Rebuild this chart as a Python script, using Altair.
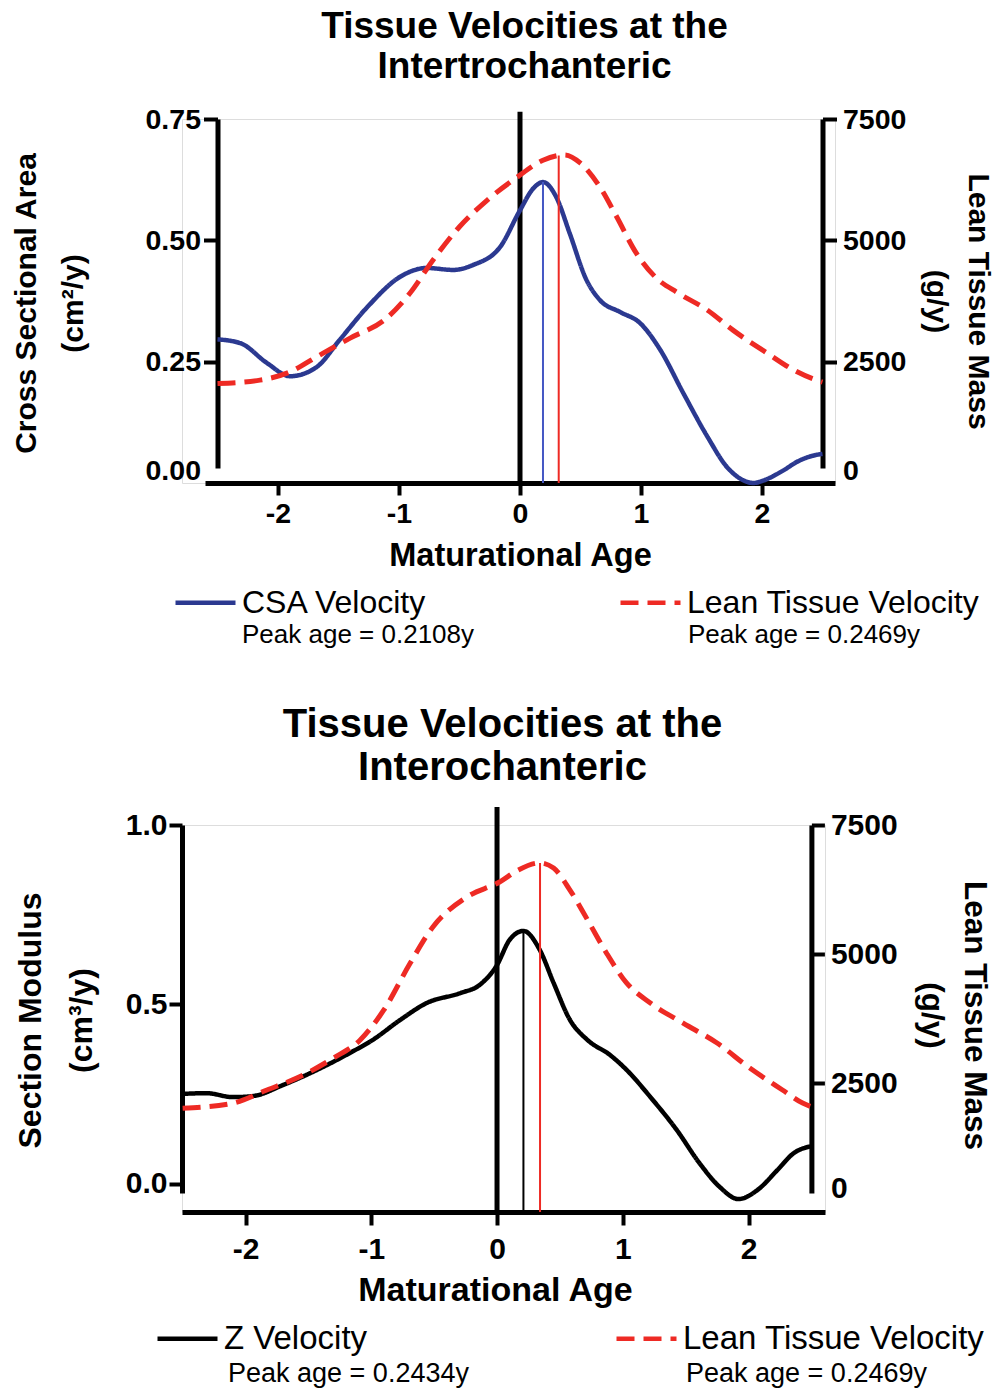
import altair as alt
import pandas as pd

FONT = "Liberation Sans"

# ---------------- data ----------------
top_title = ["Tissue Velocities at the", "Intertrochanteric"]
bottom_title = ["Tissue Velocities at the", "Interochanteric"]
x_ticks = [-2, -1, 0, 1, 2]

series_top = ["CSA Velocity", "Lean Tissue Velocity"]
series_bottom = ["Z Velocity", "Lean Tissue Velocity"]
peak_text_top = ["Peak age = 0.2108y", "Peak age = 0.2469y"]
peak_text_bottom = ["Peak age = 0.2434y", "Peak age = 0.2469y"]

# top panel: CSA velocity (cm^2/y)
csa_x = [-2.50, -2.31, -2.09, -1.90, -1.68, -1.49, -1.26, -0.99, -0.77, -0.55,
         -0.39, -0.165, 0.00, 0.11, 0.19, 0.30, 0.41, 0.55, 0.66, 0.83,
         0.99, 1.16, 1.35, 1.55, 1.71, 1.85, 1.93, 2.01, 2.17, 2.30, 2.45, 2.50]
csa_y = [0.296, 0.288, 0.247, 0.220, 0.239, 0.295, 0.363, 0.425, 0.443, 0.439,
         0.449, 0.486, 0.562, 0.607, 0.620, 0.589, 0.515, 0.418, 0.377, 0.352,
         0.330, 0.274, 0.185, 0.095, 0.033, 0.005, 0.000, 0.005, 0.025, 0.045, 0.058, 0.060]

# top panel: lean tissue velocity (g/y)
lean_top_x = [-2.50, -2.15, -1.90, -1.68, -1.40, -1.12, -0.91, -0.72, -0.50, -0.27,
              -0.03, 0.19, 0.37, 0.50, 0.66, 0.80, 0.96, 1.12, 1.31, 1.55,
              1.76, 2.04, 2.26, 2.45, 2.50]
lean_top_y = [2050, 2120, 2290, 2600, 2990, 3360, 3910, 4590, 5280, 5830,
              6290, 6650, 6760, 6590, 6100, 5480, 4740, 4240, 3910, 3560,
              3150, 2680, 2330, 2120, 2080]

# bottom panel: Z velocity (cm^3/y)
z_x = [-2.50, -2.31, -2.10, -1.94, -1.70, -1.43, -1.17, -0.99, -0.77, -0.56,
       -0.29, -0.14, 0.00, 0.10, 0.21, 0.34, 0.45, 0.58, 0.72, 0.90,
       1.03, 1.22, 1.43, 1.61, 1.77, 1.92, 2.07, 2.23, 2.36, 2.47, 2.50]
z_y = [0.251, 0.253, 0.242, 0.245, 0.276, 0.318, 0.365, 0.401, 0.457, 0.504,
       0.532, 0.554, 0.610, 0.680, 0.705, 0.652, 0.560, 0.457, 0.401, 0.359,
       0.318, 0.242, 0.150, 0.058, -0.008, -0.042, -0.017, 0.039, 0.086, 0.103, 0.105]

# bottom panel: lean tissue velocity (g/y)
lean_bot_x = [-2.50, -2.10, -1.83, -1.57, -1.30, -1.09, -0.90, -0.69, -0.51, -0.24,
              0.02, 0.17, 0.34, 0.45, 0.58, 0.72, 0.87, 1.03, 1.22, 1.48,
              1.75, 2.01, 2.27, 2.43, 2.50]
lean_bot_y = [2010, 2110, 2365, 2620, 2985, 3330, 3915, 4825, 5525, 6105,
              6395, 6630, 6765, 6665, 6240, 5660, 5020, 4440, 4050, 3660,
              3275, 2790, 2365, 2110, 2040]

# peak-age marker lines (x, bottom, top)
top_peak_left = [0.19, 0.0, 0.62]
top_peak_right = [0.32, 0.0, 6750]
bot_peak_left = [0.21, -0.078, 0.705]
bot_peak_right = [0.342, 0.0, 6765]
# x = 0 reference line (x, bottom, top)
top_zero = [0.0, 0.0, 0.765]
bot_zero = [0.0, -0.078, 1.05]

BLUE = "#2B3990"
BLUE_THIN = "#4558C4"
RED = "#EE2A24"
BLACK = "#000000"


def panel(cfg):
    W, H = cfg["width"], cfg["height"]
    xscale = alt.Scale(domain=cfg["xdom"], nice=False, zero=False)
    xaxis_kw = dict(
        values=x_ticks, labelExpr="'' + datum.value", title="Maturational Age",
        orient="bottom", grid=False, domainWidth=5, domainColor="black",
        domainCap="butt", tickWidth=4, tickColor="black", tickSize=cfg["xtick"],
        labelFont=FONT, labelFontSize=cfg["tick_fs"], labelFontWeight="bold",
        labelColor="black", labelPadding=cfg["xlabpad"],
        titleFont=FONT, titleFontSize=cfg["xtitle_fs"], titleFontWeight="bold",
        titleColor="black", titleX=cfg["xtitle_x"], titleY=cfg["xtitle_y"],
        titleBaseline="middle", titleAlign="center",
    )
    if cfg.get("xdash"):
        xaxis_kw["domainDash"] = cfg["xdash"]
    X = alt.X("x:Q", scale=xscale, axis=alt.Axis(**xaxis_kw))

    def yaxis(side):
        c = cfg[side]
        kw = dict(
            orient=side, values=c["ticks"], format=c["fmt"], title=c["title"],
            grid=False, domainWidth=5, domainColor="black", domainCap="butt",
            domainDash=[0, c["gap"], 2000], offset=c["offset"],
            tickWidth=4, tickColor="black", tickSize=c["tick"],
            labelFont=FONT, labelFontSize=cfg["tick_fs"], labelFontWeight="bold",
            labelColor="black", labelPadding=c["labpad"],
            titleFont=FONT, titleFontSize=c["title_fs"], titleFontWeight="bold",
            titleColor="black", titleAngle=c["angle"], titleX=c["tx"], titleY=c["ty"],
            titleBaseline="middle", titleAlign="center", titleLineHeight=c["lh"],
        )
        if c.get("zero_shift"):
            kw["labelOffset"] = {"condition": {"test": "datum.value === 0", "value": c["zero_shift"]}, "value": 0}
            kw["tickOpacity"] = {"condition": {"test": "datum.value === 0", "value": 0}, "value": 1}
        return alt.Y("y:Q", scale=alt.Scale(domain=c["dom"], nice=False, zero=False),
                     axis=alt.Axis(**kw))

    names = cfg["series"]
    color_scale = alt.Scale(domain=names, range=[cfg["left_color"], RED])
    dash_scale = alt.Scale(domain=names, range=[[1, 0], [18, 9]])
    legend = alt.Legend(
        orient="none", legendX=cfg["legx"], legendY=cfg["legy"], direction="horizontal",
        title=None, symbolType="stroke", symbolSize=3600, symbolStrokeWidth=4.5,
        labelFont=FONT, labelFontSize=cfg["leg_fs"], labelColor="black",
        labelOffset=4, columnPadding=cfg["legpad"], padding=0, labelLimit=600,
    )
    COLOR = alt.Color("s:N", scale=color_scale, legend=legend)
    DASH = alt.StrokeDash("s:N", scale=dash_scale, legend=legend)

    Yl = yaxis("left")
    Yr = yaxis("right")

    zero = cfg["zero"]
    zero_layer = alt.Chart(pd.DataFrame({"x": [zero[0]], "y": [zero[1]], "y2": [zero[2]]})).mark_rule(
        color="black", strokeWidth=5).encode(x=X, y=Yl, y2="y2:Q")
    left_line = alt.Chart(pd.DataFrame({"x": cfg["lx"], "y": cfg["ly"], "s": names[0]})).mark_line(
        strokeWidth=4.5, interpolate="monotone").encode(x=X, y=Yl, color=COLOR, strokeDash=DASH)
    pl = cfg["peak_left"]
    left_peak = alt.Chart(pd.DataFrame({"x": [pl[0]], "y": [pl[1]], "y2": [pl[2]]})).mark_rule(
        color=cfg["left_thin"], strokeWidth=2).encode(x=X, y=Yl, y2="y2:Q")
    left_group = alt.layer(zero_layer, left_line, left_peak)

    right_line = alt.Chart(pd.DataFrame({"x": cfg["rx"], "y": cfg["ry"], "s": names[1]})).mark_line(
        strokeWidth=5, interpolate="monotone").encode(x=X, y=Yr, color=COLOR, strokeDash=DASH)
    pr = cfg["peak_right"]
    right_peak = alt.Chart(pd.DataFrame({"x": [pr[0]], "y": [pr[1]], "y2": [pr[2]]})).mark_rule(
        color=RED, strokeWidth=2).encode(x=X, y=Yr, y2="y2:Q")
    right_group = alt.layer(right_line, right_peak)

    texts = []
    for t, (px, py) in zip(cfg["peak_text"], cfg["peak_pos"]):
        texts.append(alt.Chart(pd.DataFrame({"t": [t]})).mark_text(
            align="left", baseline="middle", font=FONT, fontSize=cfg["peak_fs"],
            color="black", x=px, y=py).encode(text="t:N"))

    return alt.layer(left_group, right_group, *texts).resolve_scale(y="independent").properties(
        width=W, height=H,
        title=alt.TitleParams(text=cfg["title"], font=FONT, fontSize=cfg["title_fs"],
                              fontWeight="bold", color="black", anchor="middle",
                              frame="group", offset=cfg["title_off"], lineHeight=cfg["title_lh"],
                              dx=cfg["title_dx"], dy=cfg["title_dy"], baseline="bottom"),
    )


top_cfg = dict(
    width=653, height=364, xdom=[-2.7934, 2.6033], xdash=[0, 23, 2000], xtick=12,
    tick_fs=28.5, xlabpad=4, xtitle_fs=32.5, xtitle_x=338, xtitle_y=72,
    left=dict(ticks=[0, 0.25, 0.5, 0.75], fmt=".2f", title=["Cross Sectional Area", "(cm²/y)"],
              gap=15, offset=-35.5, tick=14, labpad=3, title_fs=30, angle=270,
              tx=-191, ty=184, lh=47, dom=[0, 0.75], zero_shift=-13),
    right=dict(ticks=[0, 2500, 5000, 7500], fmt="d", title=["Lean Tissue Mass", "(g/y)"],
               gap=15, offset=-12.5, tick=14, labpad=6, title_fs=30, angle=90,
               tx=155, ty=182, lh=42, dom=[0, 7500], zero_shift=-13),
    series=series_top, left_color=BLUE, left_thin=BLUE_THIN,
    lx=csa_x, ly=csa_y, rx=lean_top_x, ry=lean_top_y,
    zero=top_zero, peak_left=top_peak_left, peak_right=top_peak_right,
    legx=-9, legy=451, leg_fs=32, legpad=184,
    peak_text=peak_text_top, peak_pos=[(60, 516), (506, 516)], peak_fs=26,
    title=top_title, title_fs=37, title_off=34, title_lh=40, title_dx=16, title_dy=52,
)

bot_cfg = dict(
    width=643, height=387, xdom=[-2.505, 2.608], xtick=13,
    tick_fs=30, xlabpad=9, xtitle_fs=34, xtitle_x=313, xtitle_y=78,
    left=dict(ticks=[0, 0.5, 1.0], fmt=".1f", title=["Section Modulus", "(cm³/y)"],
              gap=19, offset=0, tick=13, labpad=2, title_fs=32, angle=270,
              tx=-152, ty=195, lh=51, dom=[-0.078, 1.0]),
    right=dict(ticks=[0, 2500, 5000, 7500], fmt="d", title=["Lean Tissue Mass", "(g/y)"],
               gap=19, offset=-13.6, tick=13, labpad=6, title_fs=31.5, angle=90,
               tx=162, ty=190, lh=43, dom=[0, 7500], zero_shift=-24),
    series=series_bottom, left_color=BLACK, left_thin=BLACK,
    lx=z_x, ly=z_y, rx=lean_bot_x, ry=lean_bot_y,
    zero=bot_zero, peak_left=bot_peak_left, peak_right=bot_peak_right,
    legx=-27, legy=481, leg_fs=33, legpad=239,
    peak_text=peak_text_bottom, peak_pos=[(46, 549), (504, 549)], peak_fs=27,
    title=bottom_title, title_fs=40, title_off=34, title_lh=43, title_dx=-1, title_dy=57,
)

chart = alt.vconcat(panel(top_cfg), panel(bot_cfg), spacing=342, bounds="flush").resolve_scale(
    color="independent", strokeDash="independent"
).resolve_legend(color="independent", strokeDash="independent").properties(
    autosize=alt.AutoSizeParams(type="none"),
    padding={"left": 174, "top": 111, "right": 810, "bottom": 1270},
).configure_view(stroke="transparent").configure(font=FONT)

chart.save("out.html", embed_options={"renderer": "svg", "actions": False})
